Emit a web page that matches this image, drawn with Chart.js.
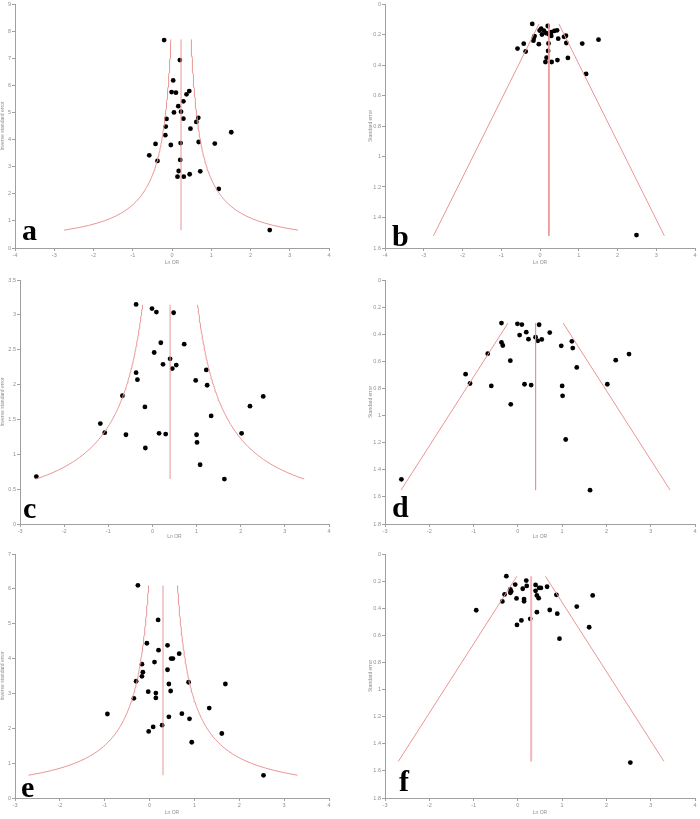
<!DOCTYPE html>
<html>
<head>
<meta charset="utf-8">
<script src="https://cdn.jsdelivr.net/npm/chart.js@4"></script>
<style>
  body { margin: 0; background: #fff; }
  #wrap { position: relative; width: 700px; height: 819px; }
  .panel { position: absolute; }
</style>
</head>
<body>
<div id="wrap"></div>
<script>
const lnOR1 = [-0.20, 0.20, 0.03, -0.01, 0.10, 0.37, 0.44, 0.29, 0.16, 0.23, 0.05, -0.14,
  0.29, 0.67, 0.62, -0.16, 0.47, -0.17, 1.51, -0.42, -0.03, 0.22, 0.68, 1.09, -0.58,
  -0.37, 0.21, 0.17, 0.72, 0.45, 0.14, 0.30, 1.19, 2.49];
const invSE1 = [7.67, 6.93, 6.18, 5.75, 5.73, 5.67, 5.79, 5.41, 5.23, 5.03, 5.00, 4.76,
  4.77, 4.80, 4.65, 4.48, 4.40, 4.16, 4.27, 3.84, 3.80, 3.87, 3.91, 3.85, 3.42,
  3.21, 3.25, 2.84, 2.83, 2.72, 2.63, 2.63, 2.18, 0.66];

const lnOR2 = [-0.37, -0.01, 0.09, 0.48, 0.19, 0.72, 0.04, 0.40, 0.24, 0.54, 0.45, 1.22,
  -0.37, -0.34, 0.98, 1.24, 2.51, -0.68, -0.17, 2.21, 1.33, -1.18, -1.08, -0.60,
  0.15, 0.30, 1.00, 2.02, 1.01, -0.16, 1.08, -2.63, 1.63];
const invSE2 = [3.15, 3.09, 3.04, 3.03, 2.60, 2.58, 2.46, 2.37, 2.29, 2.28, 2.23, 2.21,
  2.17, 2.07, 2.06, 1.99, 1.83, 1.84, 1.68, 1.69, 1.55, 1.44, 1.31, 1.28,
  1.30, 1.29, 1.28, 1.30, 1.17, 1.09, 0.85, 0.68, 0.645];

const lnOR3 = [-0.26, 0.19, -0.06, 0.40, 0.20, 0.66, 0.48, 0.52, 0.11, -0.17, 0.40, -0.15,
  -0.17, -0.30, 0.87, 1.69, 0.43, -0.03, 0.47, 0.14, 0.14, -0.35, 1.33, -0.94,
  0.72, 0.43, 0.89, 0.28, 0.08, -0.02, 1.61, 0.94, 2.54];
const invSE3 = [6.10, 5.11, 4.44, 4.38, 4.24, 4.14, 4.00, 4.00, 3.90, 3.84, 3.68, 3.61,
  3.49, 3.35, 3.32, 3.27, 3.27, 3.05, 3.07, 3.01, 2.87, 2.86, 2.58, 2.41,
  2.42, 2.33, 2.27, 2.09, 2.04, 1.91, 1.85, 1.60, 0.65];

// pooled ln OR and the SE span of the pseudo 95% limits
const pooled = [0.23, 0.40, 0.30];
const seLow = [0.13, 0.318, 0.164];
const seHigh = [1.52, 1.55, 1.53];

const xTicksAB = [-4, -3, -2, -1, 0, 1, 2, 3, 4];
const xTicksCF = [-3, -2, -1, 0, 1, 2, 3, 4];
const yTicksA = [0, 1, 2, 3, 4, 5, 6, 7, 8, 9];
const yTicksC = [0, 0.5, 1, 1.5, 2, 2.5, 3, 3.5];
const yTicksE = [0, 1, 2, 3, 4, 5, 6, 7];
const yTicksB = [0, 0.2, 0.4, 0.6, 0.8, 1, 1.2, 1.4, 1.6];
const yTicksDF = [0, 0.2, 0.4, 0.6, 0.8, 1, 1.2, 1.4, 1.6, 1.8];

const LINE = "#e99595";
const AXIS = "#a0a0a0";
const TXT = "#909090";

// pseudo confidence limits: mean +/- 1.96*SE
function limitsInv(k, side) {
  const pts = [];
  const lo = 1 / seHigh[k], hi = 1 / seLow[k];
  for (let i = 0; i <= 80; i++) {
    const w = lo + (hi - lo) * i / 80;
    pts.push({ x: pooled[k] + side * 1.96 / w, y: w });
  }
  return pts;
}
function limitsSE(k, side) {
  return [
    { x: pooled[k] + side * 1.96 * seLow[k], y: seLow[k] },
    { x: pooled[k] + side * 1.96 * seHigh[k], y: seHigh[k] },
  ];
}

const letterPlugin = {
  id: "letter",
  afterDraw(chart, args, opts) {
    const { ctx, chartArea } = chart;
    ctx.save();
    ctx.font = "bold 30px 'Liberation Serif', serif";
    ctx.fillStyle = "#000";
    ctx.textBaseline = "alphabetic";
    ctx.fillText(opts.text, chartArea.left + opts.dx, chartArea.bottom - opts.dy);
    ctx.restore();
  },
};

function makePanel(p) {
  const div = document.createElement("div");
  div.className = "panel";
  div.style.left = p.left + "px";
  div.style.top = p.top + "px";
  div.style.width = p.w + "px";
  div.style.height = p.h + "px";
  const canvas = document.createElement("canvas");
  canvas.width = p.w;
  canvas.height = p.h;
  div.appendChild(canvas);
  document.getElementById("wrap").appendChild(div);

  const k = p.k;
  const xs = [lnOR1, lnOR2, lnOR3][k];
  const ws = [invSE1, invSE2, invSE3][k];
  const pts = xs.map((x, i) => ({ x: x, y: p.inverse ? ws[i] : 1 / ws[i] }));

  const lineSet = (data, width, color) => ({
    data: data,
    showLine: true,
    borderColor: color || LINE,
    borderWidth: width,
    pointRadius: 0,
    fill: false,
  });
  const lo = p.inverse ? limitsInv(k, -1) : limitsSE(k, -1);
  const hi = p.inverse ? limitsInv(k, 1) : limitsSE(k, 1);
  const mid = p.inverse
    ? [{ x: pooled[k], y: 1 / seHigh[k] }, { x: pooled[k], y: 1 / seLow[k] }]
    : [{ x: pooled[k], y: seLow[k] }, { x: pooled[k], y: seHigh[k] }];

  const tickFmt = (v) => String(Math.round(v * 10) / 10);
  const font = (size) => ({ size: size, family: "'Liberation Sans', sans-serif" });

  new Chart(canvas, {
    type: "scatter",
    data: {
      datasets: [
        lineSet(lo, 1),
        lineSet(hi, 1),
        p.midWidth ? lineSet(mid, p.midWidth, "#f2b8b8") : lineSet(mid, 1),
        {
          data: pts,
          backgroundColor: "#000",
          borderWidth: 0,
          pointRadius: 2.4,
        },
      ],
    },
    options: {
      responsive: false,
      animation: false,
      devicePixelRatio: 1,
      layout: { padding: p.pad },
      plugins: {
        legend: { display: false },
        tooltip: { enabled: false },
        letter: p.letter,
      },
      scales: {
        x: {
          type: "linear",
          min: p.xTicks[0],
          max: p.xTicks[p.xTicks.length - 1],
          afterBuildTicks: (s) => { s.ticks = p.xTicks.map((v) => ({ value: v })); },
          afterFit: (s) => { s.height = p.xH; s.paddingLeft = 0; s.paddingRight = 0; },
          grid: { display: true, drawOnChartArea: false, drawTicks: true, tickLength: 3, tickColor: AXIS },
          border: { display: true, color: AXIS, width: 1 },
          ticks: { color: TXT, font: font(5.5), padding: 1, maxRotation: 0, callback: tickFmt },
          title: { display: true, text: "Ln OR", color: TXT, font: font(5), padding: 0 },
        },
        y: {
          type: "linear",
          reverse: !p.inverse,
          min: p.yTicks[0],
          max: p.yTicks[p.yTicks.length - 1],
          afterBuildTicks: (s) => { s.ticks = p.yTicks.map((v) => ({ value: v })); },
          afterFit: (s) => { s.width = p.yW; s.paddingTop = 0; s.paddingBottom = 0; },
          grid: { display: true, drawOnChartArea: false, drawTicks: true, tickLength: 3, tickColor: AXIS },
          border: { display: true, color: AXIS, width: 1 },
          ticks: { color: TXT, font: font(5.5), padding: 1, callback: tickFmt },
          title: {
            display: true,
            text: p.inverse ? "Inverse standard error" : "Standard error",
            color: TXT,
            font: font(5),
            padding: 0,
          },
        },
      },
    },
    plugins: [letterPlugin],
  });
}

const panels = [
  { k: 0, inverse: true, left: 0, top: 0, w: 350, h: 272, pad: { left: 0, top: 4, right: 21, bottom: 6 },
    yW: 15, xH: 18, xTicks: xTicksAB, yTicks: yTicksA, letter: { text: "a", dx: 7, dy: 8 } },
  { k: 0, inverse: false, left: 350, top: 0, w: 350, h: 272, pad: { left: 18, top: 4, right: 5, bottom: 6 },
    yW: 17, xH: 18, xTicks: xTicksAB, yTicks: yTicksB, letter: { text: "b", dx: 7, dy: 2 } },
  { k: 1, inverse: true, left: 0, top: 272, w: 350, h: 273, pad: { left: 0, top: 8, right: 21, bottom: 5 },
    yW: 20, xH: 16, xTicks: xTicksCF, yTicks: yTicksC, letter: { text: "c", dx: 3, dy: 6 } },
  { k: 1, inverse: false, left: 350, top: 272, w: 350, h: 273, pad: { left: 18, top: 8, right: 5, bottom: 5 },
    yW: 17, xH: 16, xTicks: xTicksCF, yTicks: yTicksDF, letter: { text: "d", dx: 7, dy: 7 } },
  { k: 2, inverse: true, left: 0, top: 545, w: 350, h: 274, pad: { left: 0, top: 9, right: 21, bottom: 3 },
    yW: 15, xH: 18, xTicks: xTicksCF, yTicks: yTicksE, letter: { text: "e", dx: 6, dy: 1 } },
  { k: 2, inverse: false, left: 350, top: 545, w: 350, h: 274, pad: { left: 18, top: 9, right: 5, bottom: 3 },
    yW: 17, xH: 18, xTicks: xTicksCF, yTicks: yTicksDF, letter: { text: "f", dx: 14, dy: 7 }, midWidth: 2 },
];

document.addEventListener("DOMContentLoaded", () => {
  panels.forEach(makePanel);
});
</script>
</body>
</html>
